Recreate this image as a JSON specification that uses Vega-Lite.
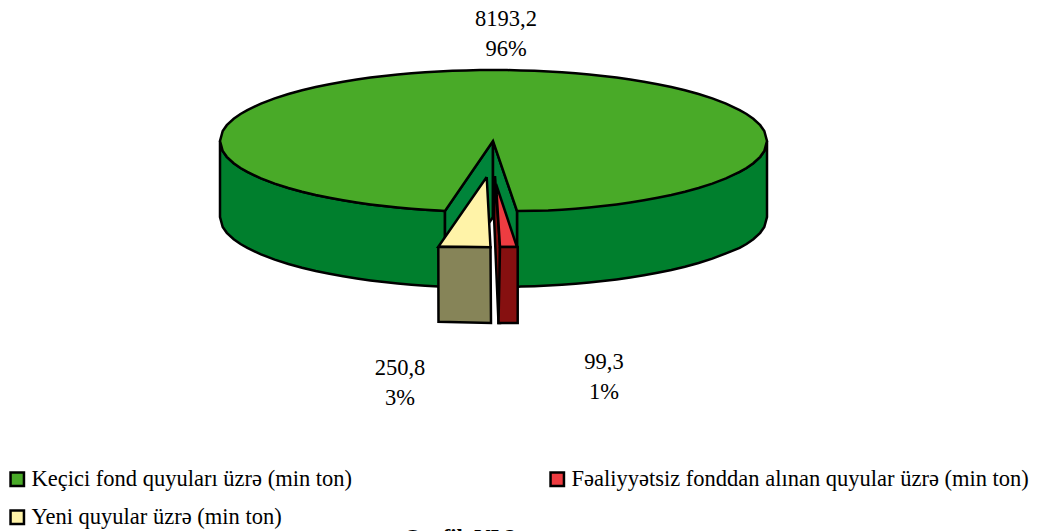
{
"$schema":"https://vega.github.io/schema/vega-lite/v6.json",
"width":1038,"height":531,"padding":0,"autosize":{"type":"none"},
"background":"white","view":{"stroke":null},
"datasets":{
"shapes":[
{"s":"sideL","x":220,"y":141},{"s":"sideL","x":222.7,"y":151},{"s":"sideL","x":226.8,"y":156.8},{"s":"sideL","x":233.7,"y":163.2},{"s":"sideL","x":240.5,"y":168},{"s":"sideL","x":247.35,"y":171.9},{"s":"sideL","x":261,"y":178.4},{"s":"sideL","x":274.7,"y":183.6},{"s":"sideL","x":288.4,"y":188},{"s":"sideL","x":302.05,"y":191.7},{"s":"sideL","x":315.7,"y":195},{"s":"sideL","x":329.4,"y":197.8},{"s":"sideL","x":343.1,"y":200.3},{"s":"sideL","x":356.75,"y":202.5},{"s":"sideL","x":370.4,"y":204.4},{"s":"sideL","x":384.1,"y":206.1},{"s":"sideL","x":397.8,"y":207.5},{"s":"sideL","x":411.45,"y":208.7},{"s":"sideL","x":425.1,"y":209.7},{"s":"sideL","x":438.8,"y":210.6},{"s":"sideL","x":445,"y":210.9},
{"s":"sideL","x":445,"y":286.9},{"s":"sideL","x":438.8,"y":286.6},{"s":"sideL","x":425.1,"y":285.7},{"s":"sideL","x":411.45,"y":284.7},{"s":"sideL","x":397.8,"y":283.5},{"s":"sideL","x":384.1,"y":282.1},{"s":"sideL","x":370.4,"y":280.4},{"s":"sideL","x":356.75,"y":278.5},{"s":"sideL","x":343.1,"y":276.3},{"s":"sideL","x":329.4,"y":273.8},{"s":"sideL","x":315.7,"y":271},{"s":"sideL","x":302.05,"y":267.7},{"s":"sideL","x":288.4,"y":264},{"s":"sideL","x":274.7,"y":259.6},{"s":"sideL","x":261,"y":254.4},{"s":"sideL","x":247.35,"y":247.9},{"s":"sideL","x":240.5,"y":244},{"s":"sideL","x":233.7,"y":239.2},{"s":"sideL","x":226.8,"y":232.8},{"s":"sideL","x":222.7,"y":227},{"s":"sideL","x":220,"y":217},{"s":"sideL","x":220,"y":141},
{"s":"sideR","x":517,"y":210.9},{"s":"sideR","x":520.85,"y":210.6},{"s":"sideR","x":534.5,"y":210.2},{"s":"sideR","x":548.2,"y":209.6},{"s":"sideR","x":561.9,"y":208.7},{"s":"sideR","x":575.55,"y":207.7},{"s":"sideR","x":589.2,"y":206.5},{"s":"sideR","x":602.9,"y":205.1},{"s":"sideR","x":616.6,"y":203.4},{"s":"sideR","x":630.25,"y":201.5},{"s":"sideR","x":643.9,"y":199.3},{"s":"sideR","x":657.6,"y":196.8},{"s":"sideR","x":671.3,"y":194},{"s":"sideR","x":684.95,"y":190.7},{"s":"sideR","x":698.6,"y":187},{"s":"sideR","x":712.3,"y":182.6},{"s":"sideR","x":726,"y":177.4},{"s":"sideR","x":739.65,"y":171.9},{"s":"sideR","x":746.5,"y":168},{"s":"sideR","x":753.3,"y":163.2},{"s":"sideR","x":760.2,"y":156.8},{"s":"sideR","x":764.3,"y":151},{"s":"sideR","x":767,"y":141},
{"s":"sideR","x":767,"y":217},{"s":"sideR","x":764.3,"y":227},{"s":"sideR","x":760.2,"y":232.8},{"s":"sideR","x":753.3,"y":239.2},{"s":"sideR","x":746.5,"y":244},{"s":"sideR","x":739.65,"y":247.9},{"s":"sideR","x":726,"y":253.4},{"s":"sideR","x":712.3,"y":258.6},{"s":"sideR","x":698.6,"y":263},{"s":"sideR","x":684.95,"y":266.7},{"s":"sideR","x":671.3,"y":270},{"s":"sideR","x":657.6,"y":272.8},{"s":"sideR","x":643.9,"y":275.3},{"s":"sideR","x":630.25,"y":277.5},{"s":"sideR","x":616.6,"y":279.4},{"s":"sideR","x":602.9,"y":281.1},{"s":"sideR","x":589.2,"y":282.5},{"s":"sideR","x":575.55,"y":283.7},{"s":"sideR","x":561.9,"y":284.7},{"s":"sideR","x":548.2,"y":285.6},{"s":"sideR","x":534.5,"y":286.2},{"s":"sideR","x":520.85,"y":286.6},{"s":"sideR","x":517,"y":286.9},{"s":"sideR","x":517,"y":210.9},
{"s":"wallL","x":493,"y":141},{"s":"wallL","x":445,"y":211},{"s":"wallL","x":445,"y":287},{"s":"wallL","x":493,"y":217},{"s":"wallL","x":493,"y":141},
{"s":"wallR","x":493,"y":141},{"s":"wallR","x":517,"y":211},{"s":"wallR","x":517,"y":287},{"s":"wallR","x":493,"y":217},{"s":"wallR","x":493,"y":141},
{"s":"top","x":445,"y":210.9},{"s":"top","x":438.8,"y":210.6},{"s":"top","x":425.1,"y":209.7},{"s":"top","x":411.45,"y":208.7},{"s":"top","x":397.8,"y":207.5},{"s":"top","x":384.1,"y":206.1},{"s":"top","x":370.4,"y":204.4},{"s":"top","x":356.75,"y":202.5},{"s":"top","x":343.1,"y":200.3},{"s":"top","x":329.4,"y":197.8},{"s":"top","x":315.7,"y":195},{"s":"top","x":302.05,"y":191.7},{"s":"top","x":288.4,"y":188},{"s":"top","x":274.7,"y":183.6},{"s":"top","x":261,"y":178.4},{"s":"top","x":247.35,"y":171.9},{"s":"top","x":240.5,"y":168},{"s":"top","x":233.7,"y":163.2},{"s":"top","x":226.8,"y":156.8},{"s":"top","x":222.7,"y":151},{"s":"top","x":220,"y":141},
{"s":"top","x":222.7,"y":131},{"s":"top","x":226.8,"y":125.2},{"s":"top","x":233.7,"y":118.8},{"s":"top","x":240.5,"y":114},{"s":"top","x":247.35,"y":110.1},{"s":"top","x":261,"y":103.6},{"s":"top","x":274.7,"y":98.4},{"s":"top","x":288.4,"y":94},{"s":"top","x":302.05,"y":90.3},{"s":"top","x":315.7,"y":87},{"s":"top","x":329.4,"y":84.2},{"s":"top","x":343.1,"y":81.7},{"s":"top","x":356.75,"y":79.5},{"s":"top","x":370.4,"y":77.6},{"s":"top","x":384.1,"y":75.9},{"s":"top","x":397.8,"y":74.5},{"s":"top","x":411.45,"y":73.3},{"s":"top","x":425.1,"y":72.3},{"s":"top","x":438.8,"y":71.4},{"s":"top","x":452.5,"y":70.8},{"s":"top","x":466.15,"y":70.4},{"s":"top","x":479.8,"y":70.1},{"s":"top","x":493.5,"y":70},{"s":"top","x":507.2,"y":70.1},{"s":"top","x":520.85,"y":70.4},{"s":"top","x":534.5,"y":70.8},{"s":"top","x":548.2,"y":71.4},{"s":"top","x":561.9,"y":72.3},{"s":"top","x":575.55,"y":73.3},{"s":"top","x":589.2,"y":74.5},{"s":"top","x":602.9,"y":75.9},{"s":"top","x":616.6,"y":77.6},{"s":"top","x":630.25,"y":79.5},{"s":"top","x":643.9,"y":81.7},{"s":"top","x":657.6,"y":84.2},{"s":"top","x":671.3,"y":87},{"s":"top","x":684.95,"y":90.3},{"s":"top","x":698.6,"y":94},{"s":"top","x":712.3,"y":98.4},{"s":"top","x":726,"y":103.6},{"s":"top","x":739.65,"y":110.1},{"s":"top","x":746.5,"y":114},{"s":"top","x":753.3,"y":118.8},{"s":"top","x":760.2,"y":125.2},{"s":"top","x":764.3,"y":131},{"s":"top","x":767,"y":141},
{"s":"top","x":764.3,"y":151},{"s":"top","x":760.2,"y":156.8},{"s":"top","x":753.3,"y":163.2},{"s":"top","x":746.5,"y":168},{"s":"top","x":739.65,"y":171.9},{"s":"top","x":726,"y":178.4},{"s":"top","x":712.3,"y":183.6},{"s":"top","x":698.6,"y":188},{"s":"top","x":684.95,"y":191.7},{"s":"top","x":671.3,"y":195},{"s":"top","x":657.6,"y":197.8},{"s":"top","x":643.9,"y":200.3},{"s":"top","x":630.25,"y":202.5},{"s":"top","x":616.6,"y":204.4},{"s":"top","x":602.9,"y":206.1},{"s":"top","x":589.2,"y":207.5},{"s":"top","x":575.55,"y":208.7},{"s":"top","x":561.9,"y":209.7},{"s":"top","x":548.2,"y":210.6},{"s":"top","x":534.5,"y":210.8},{"s":"top","x":517,"y":210.9},{"s":"top","x":493,"y":141},{"s":"top","x":445,"y":210.9},
{"s":"yellow","x":486.7,"y":177},{"s":"yellow","x":438.3,"y":246.7},{"s":"yellow","x":490.5,"y":247.2},{"s":"yellow","x":486.7,"y":177},
{"s":"olive","x":438.3,"y":246.7},{"s":"olive","x":490.5,"y":247.2},{"s":"olive","x":491,"y":323},{"s":"olive","x":438.5,"y":321.7},{"s":"olive","x":438.3,"y":246.7},
{"s":"sliver","x":495,"y":176},{"s":"sliver","x":500,"y":247},{"s":"sliver","x":500,"y":323},{"s":"sliver","x":498.5,"y":323},{"s":"sliver","x":494,"y":216},{"s":"sliver","x":495,"y":176},
{"s":"red","x":496,"y":184},{"s":"red","x":500,"y":247},{"s":"red","x":517,"y":247},{"s":"red","x":496,"y":184},
{"s":"redside","x":500,"y":247},{"s":"redside","x":517.7,"y":247},{"s":"redside","x":517.7,"y":323},{"s":"redside","x":498.5,"y":323},{"s":"redside","x":500,"y":247}
],
"slices":[
{"series":"Keçici fond quyuları üzrə (min ton)","val":"8193,2","pct":"96%","x":506,"y":19,"y2":49},
{"series":"Fəaliyyətsiz fonddan alınan quyular üzrə (min ton)","val":"99,3","pct":"1%","x":604,"y":362,"y2":392},
{"series":"Yeni quyular üzrə (min ton)","val":"250,8","pct":"3%","x":400,"y":368,"y2":398}
],
"caption":[{"t":"Qrafik VI.2","x":460,"y":538}]
},
"data":{"name":"shapes"},
"transform":[{"window":[{"op":"row_number","as":"o"}]}],
"encoding":{
"x":{"field":"x","type":"quantitative","scale":{"domain":[0,1038]},"axis":null},
"y":{"field":"y","type":"quantitative","scale":{"domain":[531,0]},"axis":null}
},
"layer":[
{"transform":[{"filter":"datum.s==='sideL'"}],"mark":{"type":"line","fill":"#007F2D","stroke":"black","strokeWidth":2.5,"strokeJoin":"miter"},"encoding":{"order":{"field":"o"}}},
{"transform":[{"filter":"datum.s==='sideR'"}],"mark":{"type":"line","fill":"#007F2D","stroke":"black","strokeWidth":2.5,"strokeJoin":"miter"},"encoding":{"order":{"field":"o"}}},
{"transform":[{"filter":"datum.s==='wallL'"}],"mark":{"type":"line","fill":"#00843A","stroke":"black","strokeWidth":2.5,"strokeJoin":"miter"},"encoding":{"order":{"field":"o"}}},
{"transform":[{"filter":"datum.s==='wallR'"}],"mark":{"type":"line","fill":"#00843A","stroke":"black","strokeWidth":2.5,"strokeJoin":"miter"},"encoding":{"order":{"field":"o"}}},
{"transform":[{"filter":"datum.s==='top'"}],"mark":{"type":"line","fill":"#49AA28","stroke":"black","strokeWidth":2.5,"strokeJoin":"miter"},"encoding":{"order":{"field":"o"}}},
{"transform":[{"filter":"datum.s==='sliver'"}],"mark":{"type":"line","fill":"#861010","stroke":"black","strokeWidth":2.5,"strokeJoin":"miter"},"encoding":{"order":{"field":"o"}}},
{"transform":[{"filter":"datum.s==='red'"}],"mark":{"type":"line","fill":"#EE3C41","stroke":"black","strokeWidth":2.5,"strokeJoin":"miter"},"encoding":{"order":{"field":"o"}}},
{"transform":[{"filter":"datum.s==='redside'"}],"mark":{"type":"line","fill":"#861010","stroke":"black","strokeWidth":2.5,"strokeJoin":"miter"},"encoding":{"order":{"field":"o"}}},
{"transform":[{"filter":"datum.s==='yellow'"}],"mark":{"type":"line","fill":"#FFF3A8","stroke":"black","strokeWidth":2.5,"strokeJoin":"miter"},"encoding":{"order":{"field":"o"}}},
{"transform":[{"filter":"datum.s==='olive'"}],"mark":{"type":"line","fill":"#868458","stroke":"black","strokeWidth":2.5,"strokeJoin":"miter"},"encoding":{"order":{"field":"o"}}},
{"data":{"name":"slices"},"mark":{"type":"text","font":"Liberation Serif","fontSize":22.5,"color":"black","baseline":"middle"},"encoding":{"text":{"field":"val"}}},
{"data":{"name":"slices"},"mark":{"type":"text","font":"Liberation Serif","fontSize":22.5,"color":"black","baseline":"middle"},"encoding":{"y":{"field":"y2","type":"quantitative"},"text":{"field":"pct"}}},
{"data":{"name":"caption"},"mark":{"type":"text","font":"Liberation Serif","fontSize":22.5,"fontWeight":"bold","color":"black","baseline":"middle"},"encoding":{"text":{"field":"t"}}},
{"data":{"name":"slices"},"mark":{"type":"point","shape":"square","filled":true,"opacity":0,"size":100},"encoding":{"fill":{"field":"series","type":"nominal","sort":null,"scale":{"domain":["Keçici fond quyuları üzrə (min ton)","Yeni quyular üzrə (min ton)","Fəaliyyətsiz fonddan alınan quyular üzrə (min ton)"],"range":["#49AA28","#FFF3A8","#EE3C41"]},"legend":{"title":null,"orient":"none","legendX":6,"legendY":468,"columns":2,"columnPadding":192,"rowPadding":14,"symbolType":"square","symbolSize":180,"symbolOpacity":1,"symbolStrokeColor":"black","symbolStrokeWidth":2.5,"labelFont":"Liberation Serif","labelFontSize":22.5,"labelColor":"black","labelLimit":600,"labelOffset":3}}}}
]
}
